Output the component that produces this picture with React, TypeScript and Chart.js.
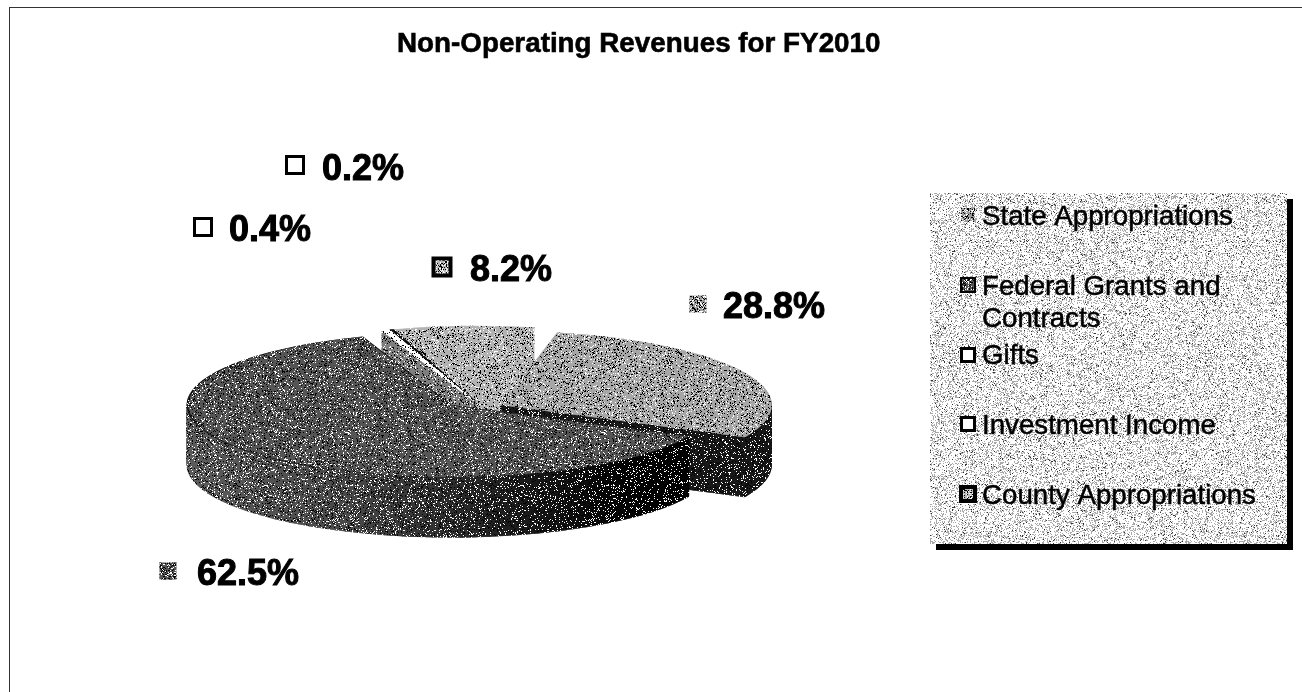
import React, { useEffect, useRef } from "react";
import { Chart, registerables } from "chart.js";

Chart.register(...registerables);

const chartTitle = "Non-Operating Revenues for FY2010";
const categories = ["State Appropriations", "Federal Grants and Contracts", "Gifts", "Investment Income", "County Appropriations"];
const shareValues = [28.8, 62.5, 0.4, 0.2, 8.2];
const shareLabels = ["28.8%", "62.5%", "0.4%", "0.2%", "8.2%"];

const FONT = '"Liberation Sans", Arial, sans-serif';
const SQUASH = 0.275;
const DEPTH = 60;
const RADIUS = 273;
const DRAW_ORDER = [4, 3, 2, 0, 1];
const sliceShiftX = [22, -29, -6, -5, -3];
const sliceShiftY = [-3, -3, -7, -7, -7];
const sliceScale = [0.985, 0.965, 1, 1, 1];

const topColors = ["#a6a6a6", "#555555", "#ffffff", "#111111", "#b2b2b2"];
const rimColors = ["#a6a6a6", "#1c1c1c", "#ffffff", "#111111", "#b2b2b2"];
const wallGradients: [number, string][][] = [
  [[0, "#1c1c1c"], [1, "#181818"]],
  [[0, "#5e5e5e"], [0.3, "#4a4a4a"], [0.62, "#1c1c1c"], [0.8, "#040404"], [1, "#000000"]],
  [[0, "#7e7e7e"], [1, "#7e7e7e"]],
  [[0, "#111111"], [1, "#111111"]],
  [[0, "#7a7a7a"], [0.5, "#7a7a7a"], [0.5, "#b2b2b2"], [1, "#b2b2b2"]],
];
const labelBoxes = [
  { mx: 698, my: 304, tx: 723, ty: 318, size: 17, border: 0 },
  { mx: 168, my: 571, tx: 197, ty: 585, size: 17, border: 0 },
  { mx: 203, my: 227, tx: 229, ty: 241, size: 20, border: 3 },
  { mx: 295, my: 165, tx: 322, ty: 180, size: 20, border: 3 },
  { mx: 442, my: 267, tx: 470, ty: 281, size: 21, border: 4 },
];
const markerFills = ["#9c9c9c", "#555555", "#ffffff", "#ffffff", "#b8b8b8"];
const legendRows = [
  { m: 968, my: 215, size: 14, border: 0, lines: [["State Appropriations", 982, 225]] },
  { m: 968, my: 285, size: 16, border: 2, lines: [["Federal Grants and", 982, 295], ["Contracts", 982, 327]] },
  { m: 968, my: 355, size: 16, border: 3, lines: [["Gifts", 982, 364]] },
  { m: 968, my: 424, size: 16, border: 3, lines: [["Investment Income", 982, 434]] },
  { m: 968, my: 494, size: 18, border: 4, lines: [["County Appropriations", 982, 504]] },
];

// fixed stipple tile that imitates the halftone of the scan
const hash = (x: number, y: number) => {
  const v = Math.sin(x * 12.9898 + y * 78.233) * 43758.5453;
  return v - Math.floor(v);
};
function stipple(ctx: CanvasRenderingContext2D, colour: string, sx: number, sy: number, density: number) {
  const size = 256;
  const c = document.createElement("canvas");
  c.width = c.height = size;
  const g = c.getContext("2d")!;
  g.fillStyle = colour;
  for (let y = 0; y < size; y++) {
    for (let x = 0; x < size; x++) {
      if (hash(x + sx, y + sy) < density) g.fillRect(x, y, 1, 1);
    }
  }
  return ctx.createPattern(c, "repeat")!;
}

function boldText(ctx: CanvasRenderingContext2D, t: string, x: number, y: number, w: number) {
  ctx.fillText(t, x, y);
  ctx.lineWidth = w;
  ctx.strokeStyle = "#000000";
  ctx.strokeText(t, x, y);
}

function drawMarker(ctx: CanvasRenderingContext2D, cx: number, cy: number, size: number, border: number, fill: string) {
  const x = cx - size / 2;
  const y = cy - size / 2;
  if (border > 0) {
    ctx.fillStyle = "#000000";
    ctx.fillRect(x, y, size, size);
  }
  ctx.fillStyle = fill;
  ctx.fillRect(x + border, y + border, size - 2 * border, size - 2 * border);
  if (fill !== "#ffffff") {
    ctx.fillStyle = stipple(ctx, "#ffffff", 3, 8, 0.25);
    ctx.fillRect(x + border, y + border, size - 2 * border, size - 2 * border);
    ctx.fillStyle = stipple(ctx, "#000000", 9, 2, 0.25);
    ctx.fillRect(x + border, y + border, size - 2 * border, size - 2 * border);
  }
}

const piePlugin = {
  id: "tiltedPie",
  beforeDatasetsDraw(chart: any) {
    const ctx: CanvasRenderingContext2D = chart.ctx;
    const arcs = chart.getDatasetMeta(0).data;
    const cx = arcs[0].x;
    const cy = arcs[0].y;
    const place = (i: number, dy: number) => {
      ctx.translate(cx + sliceShiftX[i], cy + sliceShiftY[i] + dy);
      ctx.scale(sliceScale[i], SQUASH * sliceScale[i]);
      ctx.translate(-cx, -cy);
    };
    for (const i of DRAW_ORDER) {
      const arc = arcs[i];
      const base = arc.options;
      const spread = i === 4 ? [400, 540] : [190, 770];
      const grad = ctx.createLinearGradient(spread[0], 0, spread[1], 0);
      wallGradients[i].forEach(([p, c]) => grad.addColorStop(p, c));
      arc.options = { ...base, backgroundColor: grad, borderColor: grad };
      for (let dy = DEPTH; dy > 0; dy -= 1) {
        ctx.save();
        place(i, dy);
        arc.draw(ctx);
        ctx.restore();
      }
      arc.options = base;
      ctx.save();
      place(i, 0);
      arc.draw(ctx);
      ctx.restore();
    }
    ctx.save();
    ctx.globalCompositeOperation = "source-atop";
    ctx.fillStyle = stipple(ctx, "#ffffff", 0, 0, 0.12);
    ctx.fillRect(0, 0, chart.width, chart.height);
    ctx.fillStyle = stipple(ctx, "#000000", 91, 37, 0.14);
    ctx.fillRect(0, 0, chart.width, chart.height);
    ctx.restore();
    return false;
  },
  afterDraw(chart: any) {
    const ctx: CanvasRenderingContext2D = chart.ctx;
    ctx.save();
    // page frame
    ctx.fillStyle = "#333333";
    ctx.fillRect(9, 7, 1293, 1);
    ctx.fillRect(9, 7, 1, 685);

    ctx.textBaseline = "alphabetic";
    ctx.textAlign = "left";
    ctx.fillStyle = "#000000";
    ctx.font = `bold 27.8px ${FONT}`;
    boldText(ctx, chartTitle, 397, 52, 0.6);

    // data labels
    (chart.data.datasets[0].data as number[]).forEach((_, i) => {
      const b = labelBoxes[i];
      drawMarker(ctx, b.mx, b.my, b.size, b.border, markerFills[i]);
      ctx.fillStyle = "#000000";
      ctx.font = `bold 36px ${FONT}`;
      boldText(ctx, shareLabels[i], b.tx, b.ty, 1);
    });

    // legend
    ctx.fillStyle = "#000000";
    ctx.fillRect(1287, 199, 6, 351);
    ctx.fillRect(936, 544, 357, 6);
    ctx.fillStyle = "#ffffff";
    ctx.fillRect(930, 193, 357, 351);
    ctx.fillStyle = stipple(ctx, "#a8a8a8", 11, 5, 0.3);
    ctx.fillRect(930, 193, 357, 351);
    ctx.fillStyle = stipple(ctx, "#333333", 47, 3, 0.04);
    ctx.fillRect(930, 193, 357, 351);
    legendRows.forEach((row, i) => {
      drawMarker(ctx, row.m, row.my, row.size, row.border, markerFills[i]);
      ctx.fillStyle = "#000000";
      ctx.font = `27.7px ${FONT}`;
      row.lines.forEach(([t, x, y]) => boldText(ctx, t as string, x as number, y as number, 0.5));
    });
    ctx.restore();
  },
};

export default function App() {
  const ref = useRef<HTMLCanvasElement>(null);
  useEffect(() => {
    if (!ref.current) return;
    const chart = new Chart(ref.current, {
      type: "pie",
      data: {
        labels: categories,
        datasets: [
          {
            data: shareValues,
            backgroundColor: topColors,
            borderColor: rimColors,
            borderWidth: 2,
            radius: RADIUS,
          } as any,
        ],
      },
      options: {
        responsive: false,
        animation: false,
        rotation: 12,
        events: [],
        layout: { padding: { top: 124, right: 342, left: 0, bottom: 0 } },
        plugins: { legend: { display: false }, title: { display: false }, tooltip: { enabled: false } },
      },
      plugins: [piePlugin],
    });
    return () => chart.destroy();
  }, []);
  return (
    <canvas
      ref={ref}
      width={1302}
      height={692}
      style={{ position: "absolute", left: 0, top: 0, width: 1302, height: 692, background: "#fff" }}
    />
  );
}
